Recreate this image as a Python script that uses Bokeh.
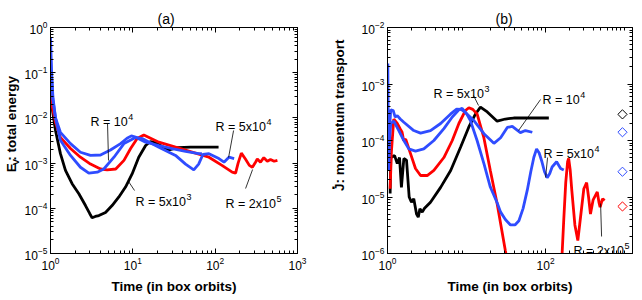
from math import pi, nan
from bokeh.plotting import figure
from bokeh.models import (Label, Arrow, LogAxis, FixedTicker, Range1d, ColumnDataSource,
                          CustomJSTickFormatter)
from bokeh.layouts import row
from bokeh.embed import file_html
from bokeh.resources import INLINE

FONT = "Liberation Sans"
BLACK = "#000000"
RED = "#ff0000"
BLUE = "#2f4cff"
H = 300

# ---------------- Panel (a): E_V total energy vs time ----------------
a_t_5e3 = [1.0, 1.15, 1.32, 1.52, 1.83, 2.21, 2.66, 3.0, 3.2, 3.5, 3.87, 4.66, 5.6, 6.77, 8.15,
           9.8, 11.8, 14.3, 16.4, 19.0, 23.0, 27.5, 35.0, 50.0, 70.0, 90.0, 110.0]
a_E_5e3 = [2.88e-2, 5.25e-3, 1.62e-3, 6.9e-4, 3.5e-4, 2.1e-4, 1.15e-4, 7.6e-5, 6.2e-5, 6.6e-5, 6.9e-5,
           8.1e-5, 1.15e-4, 1.78e-4, 2.95e-4, 5.75e-4, 1.35e-3, 2.45e-3, 3.0e-3, 2.8e-3, 2.3e-3,
           1.95e-3, 2.2e-3, 2.25e-3, 2.25e-3, 2.25e-3, 2.25e-3]

a_t_1e4 = [1.0, 1.03, 1.07, 1.15, 1.32, 1.75, 2.31, 3.06, 4.05, 5.35, 7.1, 8.5, 9.6, 11.0, 14.3,
           20.7, 30.0, 43.7, 63.0, 69.0]
a_E_1e4 = [0.25, 0.079, 0.025, 0.01, 4.8e-3, 2.7e-3, 1.74e-3, 1.48e-3, 1.51e-3, 1.95e-3, 2.7e-3,
           3.55e-3, 4.0e-3, 3.7e-3, 2.9e-3, 2.45e-3, 2.1e-3, 1.82e-3, 1.62e-3, 1.62e-3]

a_t_5e4 = [1.0, 1.03, 1.07, 1.15, 1.32, 1.75, 2.31, 2.92, 3.7, 4.44, 5.9, 7.8, 10.8, 13.0, 20.7,
           33.0, 43.7, 55.0, 63.0, 71.0, 84.0, 111.0, 128.0, 147.0, 170.0]
a_E_5e4 = [0.6, 0.112, 0.0288, 0.01, 3.2e-3, 1.48e-3, 8.1e-4, 6.0e-4, 6.3e-4, 7.4e-4, 1.35e-3,
           2.7e-3, 3.7e-3, 3.5e-3, 2.25e-3, 1.48e-3, 9.5e-4, 7.1e-4, 9.5e-4, 1.55e-3, 1.62e-3,
           1.26e-3, 1.05e-3, 1.35e-3, 1.26e-3]

a_t_2e5 = [1.0, 1.05, 1.15, 1.32, 1.75, 2.31, 3.06, 4.05, 4.88, 6.2, 7.8, 9.4, 11.3, 13.6, 20.7,
           33.0, 52.5, 84.0, 121.0, 161.0, 177.0, 190.0, 208.0, 233.0, 260.0, 283.0, 305.0, 325.0,
           355.0, 390.0, 430.0, 470.0, 520.0, 570.0]
a_E_2e5 = [0.040, 0.0178, 7.9e-3, 3.7e-3, 2.1e-3, 1.35e-3, 9.5e-4, 7.4e-4, 7.1e-4, 7.4e-4, 1.15e-3,
           2.1e-3, 3.5e-3, 4.2e-3, 2.9e-3, 2.25e-3, 1.75e-3, 1.35e-3, 8.9e-4, 6.3e-4, 6.0e-4,
           1.0e-3, 1.66e-3, 1.23e-3, 8.9e-4, 8.1e-4, 1.0e-3, 1.23e-3, 1.05e-3, 1.32e-3, 1.1e-3,
           1.2e-3, 1.1e-3, 1.15e-3]

# ---------------- Panel (b): J-dot momentum transport vs time ----------------
b_t_5e3 = [1.08, 1.1, 1.23, 1.33, 1.42, 1.50, 1.61, 1.74, 1.88, 2.01, 2.15, 2.33, 2.45, 2.57, 2.75,
           2.94, 3.5, 4.7, 6.3, 8.4, 10.7, 13.0, 15.0, 18.3, 24.4, 31.0, 39.5, 60.0, 110.0]
b_J_5e3 = [1.15e-5, 5.0e-5, 5.4e-5, 3.9e-5, 5.0e-5, 1.48e-5, 4.8e-5, 4.5e-5, 1.0e-5, 8.1e-6,
           9.3e-6, 5.0e-6, 4.4e-6, 6.2e-6, 5.4e-6, 6.3e-6, 8.1e-6, 1.48e-5, 2.95e-5, 7.6e-5,
           1.74e-4, 2.95e-4, 3.9e-4, 3.2e-4, 2.2e-4, 2.4e-4, 2.5e-4, 2.5e-4, 2.5e-4]

b_t_1e4 = [1.0, 1.01, 1.02, 1.03, 1.06, 1.1, 1.18, 1.25, 1.33, 1.45, 1.61, 2.15, 2.62, 3.5, 4.7,
           6.3, 7.5, 8.5, 9.5, 12.4, 16.6, 22.2, 27.0, 32.8, 37.9, 48.0, 55.6, 68.0]
b_J_1e4 = [3.2e-5, 2.3e-3, 3.2e-4, 2.95e-5, 1.6e-4, 3.5e-4, 3.4e-4, 2.6e-4, 2.75e-4, 2.4e-4,
           2.1e-4, 1.5e-4, 1.35e-4, 1.5e-4, 2.0e-4, 2.95e-4, 3.6e-4, 3.55e-4, 3.2e-4, 2.25e-4,
           1.32e-4, 8.9e-5, 1.12e-4, 1.7e-4, 1.78e-4, 1.38e-4, 1.5e-4, 1.4e-4]

b_t_5e4 = [1.03, 1.06, 1.1, 1.2, 1.39, 1.61, 1.86, 2.26, 2.88, 3.86, 5.17, 6.6, 8.0, 8.8, 10.0,
           11.2, 13.6, 16.6, 20.0, 24.4, 27.0, 31.0, 36.0, 41.0, 46.0, 52.0, 58.7, 65.0, 71.0,
           77.0, 83.0, 90.0, 97.0, 105.0, 113.0, 121.0, 138.0, 155.0, 170.0]
b_J_5e4 = [2.95e-5, 1.0e-4, 2.0e-4, 2.2e-4, 1.5e-4, 1.0e-4, 7.1e-5, 6.5e-5, 7.1e-5, 1.0e-4,
           1.62e-4, 2.6e-4, 3.5e-4, 3.7e-4, 3.0e-4, 2.25e-4, 1.0e-4, 3.9e-5, 1.5e-5, 7.9e-6,
           5.4e-6, 4.0e-6, 3.2e-6, 3.2e-6, 3.8e-6, 6.3e-6, 1.32e-5, 2.8e-5, 5.0e-5, 7.1e-5,
           6.0e-5, 4.2e-5, 2.8e-5, 2.2e-5, 2.6e-5, 3.4e-5, 4.2e-5, 3.2e-5, 3.0e-5]

b_t_2e5 = [1.08, 1.12, 1.2, 1.33, 1.45, 1.53, 1.6, 1.7, 1.96, 2.26, 2.62, 3.18, 3.86, 5.17, 6.6,
           8.0, 9.7, 10.7, 12.0, 13.6, 16.5, 20.0, 24.4, 31.0, 33.0, nan, 160.0, 170.0, 180.0,
           190.0, 196.0, 205.0, 215.0, 235.0, 256.0, 280.0, 305.0, 331.0, 350.0, 370.0, 400.0,
           451.0, 475.0, 490.0, 525.0, 560.0]
b_J_2e5 = [1.4e-5, 6.3e-5, 2.4e-4, 2.0e-4, 1.6e-4, 1.4e-4, 1.0e-4, 1.05e-4, 5.8e-5, 3.2e-5,
           2.4e-5, 2.4e-5, 2.95e-5, 5.0e-5, 1.0e-4, 2.0e-4, 3.4e-4, 3.8e-4, 3.55e-4, 2.95e-4,
           1.15e-4, 2.95e-5, 7.6e-6, 1.12e-6, 7.0e-7, nan, 7.0e-7, 4.0e-6, 1.8e-5, 4.2e-5,
           4.8e-5, 3.0e-5, 1.3e-5, 3.2e-6, 1.7e-6, 5.0e-6, 1.4e-5, 1.8e-5, 1.0e-5, 5.0e-6,
           8.9e-6, 1.23e-5, 7.9e-6, 6.6e-6, 9.3e-6, 8.7e-6]

# diamond markers at the right edge of panel (b)
diam_t = [940.0, 940.0, 940.0, 940.0]
diam_J = [2.9e-4, 1.4e-4, 2.8e-5, 6.8e-6]
diam_c = [BLACK, BLUE, BLUE, RED]

# tick values
a_xticks = [1, 10, 100, 1000]
a_yticks = [1e-5, 1e-4, 1e-3, 1e-2, 1e-1, 1]
b_xticks = [1, 100]
b_yticks = [1e-6, 1e-5, 1e-4, 1e-3, 1e-2]


def minors(lo, hi):
    return [m * 10.0 ** e for e in range(lo, hi) for m in range(2, 10)]


# page pixel -> data helpers (for text placement only)
def pa(px, py):
    return 10 ** ((px - 50) / 82.3), 10 ** (-(py - 27) / 45.2)


def pb(px, py):
    return 10 ** ((px - 387) / 79.0), 10 ** (-2 - (py - 27) / 56.5)


ARIAL = {"R": .722, " ": .278, "=": .584, "x": .5, "0": .556, "1": .556, "2": .556, "5": .556}


def tw(s, fs):
    return sum(ARIAL.get(c, .556) for c in s) * fs


def style(ax, labels=True):
    ax.major_label_text_font = FONT
    ax.major_label_text_font_size = "12px"
    ax.major_label_standoff = 3 if labels else 0
    ax.major_tick_in = 5
    ax.major_tick_out = 0
    ax.minor_tick_in = 3
    ax.minor_tick_out = 0
    ax.axis_line_color = BLACK
    ax.major_tick_line_color = BLACK
    ax.minor_tick_line_color = BLACK
    ax.major_label_text_color = BLACK
    ax.axis_label_text_color = BLACK
    if not labels:
        ax.formatter = CustomJSTickFormatter(code="return ''")


def make_fig(width, left, right, xr, yr, xt, xm, yt, ym, title, title_off):
    p = figure(width=width, height=H, x_axis_type="log", y_axis_type="log",
               x_range=Range1d(*xr), y_range=Range1d(*yr),
               output_backend="svg", toolbar_location=None,
               min_border_left=left, min_border_right=right,
               min_border_top=27, min_border_bottom=47)
    p.xgrid.visible = False
    p.ygrid.visible = False
    p.outline_line_color = BLACK
    p.outline_line_width = 1
    p.background_fill_color = "white"
    p.border_fill_color = "white"
    p.xaxis.ticker = FixedTicker(ticks=xt, minor_ticks=xm)
    p.yaxis.ticker = FixedTicker(ticks=yt, minor_ticks=ym)
    style(p.xaxis[0])
    style(p.yaxis[0])
    p.xaxis.axis_label = "Time (in box orbits)"
    p.xaxis.axis_label_text_font = FONT
    p.xaxis.axis_label_text_font_size = "13.5px"
    p.xaxis.axis_label_text_font_style = "bold"
    p.xaxis.axis_label_standoff = 6
    top = LogAxis(ticker=FixedTicker(ticks=xt, minor_ticks=xm))
    style(top, labels=False)
    p.add_layout(top, "above")
    rt = LogAxis(ticker=FixedTicker(ticks=yt, minor_ticks=ym))
    style(rt, labels=False)
    p.add_layout(rt, "right")
    p.title.text = title
    p.title.text_font = FONT
    p.title.text_font_size = "14px"
    p.title.text_font_style = "normal"
    p.title.text_color = BLACK
    p.title.align = "left"
    p.title.offset = title_off
    p.title.standoff = 2
    return p


def text(p, xy, s, fs=12.5, align="left", baseline="alphabetic", angle=0, bold=False):
    p.add_layout(Label(x=xy[0], y=xy[1], text=s, text_font=FONT, text_font_size=f"{fs}px",
                       text_align=align, text_baseline=baseline, angle=angle,
                       text_font_style="bold" if bold else "normal", text_color=BLACK))


def rlabel(p, xy, base, sup, fs=12.5):
    text(p, xy, base, fs)
    p.add_layout(Label(x=xy[0], y=xy[1], x_offset=tw(base, fs) + 0.5, y_offset=5, text=sup,
                       text_font=FONT, text_font_size=f"{fs * 0.72:.1f}px",
                       text_baseline="alphabetic", text_color=BLACK))


def pointer(p, a, b):
    p.add_layout(Arrow(end=None, x_start=a[0], y_start=a[1], x_end=b[0], y_end=b[1],
                       line_color=BLACK, line_width=0.8))


def strip(x0, w):
    # narrow blank figure whose data units equal page pixels; holds the rotated y labels
    s = figure(width=w, height=H, x_range=Range1d(x0, x0 + w), y_range=Range1d(H, 0),
               output_backend="svg", toolbar_location=None,
               x_axis_location=None, y_axis_location=None,
               min_border_left=0, min_border_right=0, min_border_top=0, min_border_bottom=0)
    s.xgrid.visible = False
    s.ygrid.visible = False
    s.outline_line_color = None
    return s


LW = 2.8

# ---------------- y label strip (a) ----------------
sa = strip(0, 20)
text(sa, (11, 192), "E", fs=13.5, baseline="middle", angle=pi / 2, bold=True)
text(sa, (14.5, 183), "V", fs=9.5, baseline="middle", angle=pi / 2, bold=True)
text(sa, (11, 177), " : total energy", fs=13.5, baseline="middle", angle=pi / 2, bold=True)

# ---------------- figure (a) ----------------
p1 = make_fig(308, 30, 31, (1, 1000), (1e-5, 1), a_xticks, minors(0, 3), a_yticks, minors(-5, 0),
              "(a)", 107)
p1.line(a_t_5e3, a_E_5e3, line_color=BLACK, line_width=LW)
p1.line(a_t_2e5, a_E_2e5, line_color=RED, line_width=LW)
p1.line(a_t_1e4, a_E_1e4, line_color=BLUE, line_width=LW)
p1.line(a_t_5e4, a_E_5e4, line_color=BLUE, line_width=LW)

rlabel(p1, pa(90, 121), "R = 10", "4")
pointer(p1, pa(107, 123), pa(108, 160))
rlabel(p1, pa(215, 126), "R = 5x10", "4")
pointer(p1, pa(233, 130), pa(228, 157))
rlabel(p1, pa(135, 201), "R = 5x10", "3")
pointer(p1, pa(128, 181), pa(134, 190))
rlabel(p1, pa(225, 203), "R = 2x10", "5")
pointer(p1, pa(245, 188), pa(252, 169))

# ---------------- y label strip (b) ----------------
sb = strip(328, 22)
text(sb, (339, 217), "J: momentum transport", fs=13.5, baseline="middle", angle=pi / 2, bold=True)
text(sb, (333.5, 212), "\u00b7", fs=16, align="center", baseline="middle", bold=True)

# ---------------- figure (b) ----------------
p2 = make_fig(292, 37, 10, (1, 1259), (1e-6, 1e-2), b_xticks, minors(0, 3) + [1000.0], b_yticks,
              minors(-6, -2), "(b)", 108)
p2.line(b_t_5e3, b_J_5e3, line_color=BLACK, line_width=LW)
p2.line(b_t_2e5, b_J_2e5, line_color=RED, line_width=LW)
p2.line(b_t_1e4, b_J_1e4, line_color=BLUE, line_width=LW)
p2.line(b_t_5e4, b_J_5e4, line_color=BLUE, line_width=LW)
src = ColumnDataSource(dict(t=diam_t, j=diam_J, c=diam_c))
p2.scatter("t", "j", source=src, marker="square", angle=pi / 4, size=6.5, fill_color=None,
           line_color="c", line_width=1)

rlabel(p2, pb(433, 93), "R = 5x10", "3")
pointer(p2, pb(473, 95), pb(478, 105))
rlabel(p2, pb(542, 99), "R = 10", "4")
pointer(p2, pb(540, 99), pb(518, 130))
rlabel(p2, pb(543, 153), "R = 5x10", "4")
pointer(p2, pb(547, 157), pb(545, 177))
rlabel(p2, pb(573, 250), "R = 2x10", "5")
pointer(p2, pb(600, 203), pb(601, 236))

layout = row(sa, p1, sb, p2)
open("out.html", "w").write(file_html(layout, INLINE))
